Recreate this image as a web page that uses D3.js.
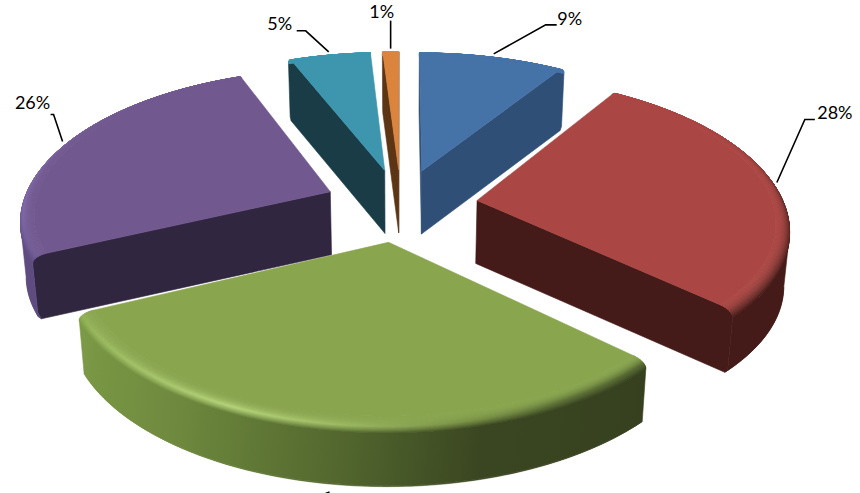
<!DOCTYPE html>
<html>
<head>
<meta charset="utf-8">
<style>
  html, body { margin: 0; padding: 0; background: #fff; overflow: hidden; }
  svg { display: block; }
  text { font-family: Lato, sans-serif; font-size: 18px; fill: #000; }
</style>
<script src="https://cdn.jsdelivr.net/npm/d3@7"></script>
</head>
<body>
<svg width="860" height="493"><defs></defs></svg>
<script>
// 3D exploded pie, no 3D in d3 so the slices get projected by hand
const categories = ["A", "B", "C", "D", "E", "F"];
const values = [9, 28, 31, 26, 5, 1];
const labels = ["9%", "28%", null, "26%", "5%", "1%"]; // green label is cut off in the picture

const topColors = ["#4572a7", "#aa4643", "#89a54e", "#71588f", "#3d96ae", "#db843d"];
const faceColors = ["#2f4f77", "#441b18", "#36401f", "#312640", "#1a3c46", "#5c3515"];

// colour round the rim, by degrees clockwise from 12 o'clock
const wallStops = [
  [[0, 360], ["#4572a7", "#4572a7"]],
  [[32, 62, 85, 133], ["#aa4643", "#8a3835", "#441b18", "#441b18"]],
  [[133, 165, 190, 215, 245], ["#36401f", "#3a4621", "#566b30", "#6f8a3e", "#7d9b47"]],
  [[245, 270, 290, 338], ["#5e4b80", "#6f5a97", "#7a63a5", "#71588f"]],
  [[0, 360], ["#3d96ae", "#3d96ae"]],
  [[0, 360], ["#db843d", "#db843d"]]
];
const glowStops = [
  [[0, 360], ["#4572a7", "#4572a7"]],
  [[32, 62, 85, 133], ["#aa4643", "#a04240", "#7e3532", "#7b3431"]],
  [[133, 150, 170, 190, 205, 245], ["#55682f", "#5c7035", "#7c9648", "#a2c066", "#b4d379", "#8fb052"]],
  [[245, 265, 290, 338], ["#6a558f", "#8069aa", "#7b64a0", "#71588f"]],
  [[0, 360], ["#3d96ae", "#3d96ae"]],
  [[0, 360], ["#db843d", "#db843d"]]
];

// leader line elbows, relative to the rim point of the slice
const leaders = [
  [[52, -29], [63, -29]],
  [[28, -63], [38, -63]],
  [[-13, 5], [-24, 10]],
  [[-9, -27], [-12, -27]],
  [[-23, -21], [-32, -21]],
  [[0, -28]]
];
const labelOffsets = [[76, -33], [58, -68], [0, 0], [-30, -37], [-49, -26], [-9, -35]];

const svg = d3.select("svg");
const defs = svg.select("defs");
const cx = 401, cy = 205;
const R = 310, explode = 77, T = 63;
const tiltA = 0.4737, persp = 0.000444, shrink = 0.00028;
const bevelW = 14, bevelZ = 7, steps = 24;
const camV = 1 / persp;

function project(u, v, z) {
  const k = 1 / (1 - persp * v);
  return [cx + u * k * (1 - z * shrink), cy + tiltA * v * k + z];
}

// point on a slice: a = angle, r = distance from the slice apex
function point(s, a, r, z) {
  return project(s.cu + r * Math.sin(a), s.cv - r * Math.cos(a), z);
}

// rim profile from the flat top down to the base
const profile = d3.range(steps + 1).map(function (i) {
  const t = (i / steps) * Math.PI / 2;
  return { t: i / steps, r: R - bevelW * (1 - Math.sin(t)), z: bevelZ * (1 - Math.cos(t)) };
});
const foot = [{ r: R, z: T - 3 }, { r: R - 3, z: T }];

const line = d3.line();

const pie = d3.pie().sort(null).value(function (d) { return d; });

const slices = pie(values).map(function (d, i) {
  const mid = (d.startAngle + d.endAngle) / 2;
  return {
    i: i,
    a0: d.startAngle,
    a1: d.endAngle,
    mid: mid,
    cu: explode * Math.sin(mid),
    cv: -explode * Math.cos(mid),
    wall: d3.scaleLinear().domain(wallStops[i][0]).range(wallStops[i][1]).interpolate(d3.interpolateRgb).clamp(true),
    glow: d3.scaleLinear().domain(glowStops[i][0]).range(glowStops[i][1]).interpolate(d3.interpolateRgb).clamp(true)
  };
});

function deg(a) { return a * 180 / Math.PI; }

let gradId = 0;

// gradient along the chord of the slice, colour sampled round the rim
function rimGradient(s, angles, colorAt) {
  const id = "rim" + gradId++;
  const p0 = point(s, s.a0, R, 0), p1 = point(s, s.a1, R, 0);
  const dx = p1[0] - p0[0], dy = p1[1] - p0[1];
  const len2 = dx * dx + dy * dy;
  const grad = defs.append("linearGradient")
    .attr("id", id)
    .attr("gradientUnits", "userSpaceOnUse")
    .attr("x1", p0[0]).attr("y1", p0[1])
    .attr("x2", p1[0]).attr("y2", p1[1]);
  angles.forEach(function (a) {
    const p = point(s, a, R, 0);
    grad.append("stop")
      .attr("offset", ((p[0] - p0[0]) * dx + (p[1] - p0[1]) * dy) / len2)
      .attr("stop-color", colorAt(deg(a)));
  });
  return "url(#" + id + ")";
}

function poly(g, pts, paint, width) {
  g.append("path")
    .attr("d", line(pts) + "Z")
    .attr("fill", paint)
    .attr("stroke", paint)
    .attr("stroke-width", width === undefined ? 0.6 : width)
    .attr("stroke-linejoin", "round");
}

function drawFace(g, s, a, sign) {
  // only when the camera is on the outer side of the cut
  const nx = Math.sin(a + sign * Math.PI / 2);
  const ny = -Math.cos(a + sign * Math.PI / 2);
  if (nx * (0 - s.cu) + ny * (camV - s.cv) <= 0) return;
  const pts = [point(s, a, 0, 0)]
    .concat(profile.map(function (p) { return point(s, a, p.r, p.z); }))
    .concat(foot.map(function (p) { return point(s, a, p.r, p.z); }))
    .concat([point(s, a, 0, T)]);
  poly(g, pts, faceColors[s.i]);
}

function drawSlice(s) {
  const g = svg.append("g").attr("class", "slice");
  drawFace(g, s, s.a0, -1);
  drawFace(g, s, s.a1, 1);

  const n = Math.max(4, Math.ceil(deg(s.a1 - s.a0) / 1));
  const angles = d3.range(n + 1).map(function (i) { return s.a0 + (s.a1 - s.a0) * i / n; });
  const stopAngles = angles.filter(function (a, i) { return i % 4 === 0 || i === n; });

  // outer wall, only the part that looks at the camera
  const seen = angles.filter(function (a) {
    const pu = s.cu + R * Math.sin(a), pv = s.cv - R * Math.cos(a);
    return Math.sin(a) * (0 - pu) - Math.cos(a) * (camV - pv) > 0;
  });
  if (seen.length > 1) {
    const edge = seen.map(function (a) { return point(s, a, R, bevelZ); })
      .concat(seen.slice().reverse().map(function (a) { return point(s, a, R, T - 3); }));
    const base = seen.map(function (a) { return point(s, a, R - 3, T); })
      .concat(seen.slice().reverse().map(function (a) { return point(s, a, R, T - 3); }));
    const paint = rimGradient(s, stopAngles, s.wall);
    poly(g, base, paint);
    poly(g, edge, paint);
  }

  // bevel, top colour -> glow -> wall colour
  d3.pairs(profile).reverse().forEach(function (rings) {
    const t = (rings[0].t + rings[1].t) / 2;
    const paint = rimGradient(s, stopAngles, function (a) {
      return t < 0.55
        ? d3.interpolateRgb(topColors[s.i], s.glow(a))(d3.easeQuadIn(t / 0.55))
        : d3.interpolateRgb(s.glow(a), s.wall(a))((t - 0.55) / 0.45);
    });
    const pts = angles.map(function (a) { return point(s, a, rings[0].r, rings[0].z); })
      .concat(angles.slice().reverse().map(function (a) { return point(s, a, rings[1].r, rings[1].z); }));
    poly(g, pts, paint, 0.8);
  });

  // flat top
  const top = [point(s, s.a0, 0, 0)].concat(angles.map(function (a) {
    return point(s, a, R - bevelW, 0);
  }));
  poly(g, top, topColors[s.i]);
}

slices.slice().sort(function (a, b) { return a.cv - b.cv; }).forEach(drawSlice);

// leader lines and labels
slices.forEach(function (s) {
  const z = s.i === 2 ? T + 6 : 0;
  const start = point(s, s.mid, R, z);
  const pts = [start].concat(leaders[s.i].map(function (o) {
    return [start[0] + o[0], start[1] + o[1]];
  }));
  svg.append("path")
    .attr("d", line(pts))
    .attr("fill", "none")
    .attr("stroke", "#000")
    .attr("stroke-width", 1.6);
  if (labels[s.i]) {
    svg.append("text")
      .attr("x", start[0] + labelOffsets[s.i][0])
      .attr("y", start[1] + labelOffsets[s.i][1])
      .attr("text-anchor", "middle")
      .attr("dominant-baseline", "middle")
      .text(labels[s.i]);
  }
});
</script>
</body>
</html>
